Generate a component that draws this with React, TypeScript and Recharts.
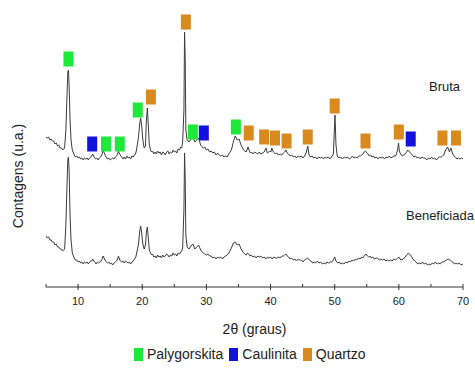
import React from 'react';
import { ComposedChart, Line, Scatter, XAxis, YAxis, Label } from 'recharts';

// 2θ (graus), contagens (u.a.)
const brutaPoints = [
  [5.0, 150], [5.2, 149], [5.4, 150], [5.6, 147], [5.8, 148], [6.0, 146], [6.2, 146], [6.4, 143],
  [6.6, 144], [6.8, 141], [7.0, 142], [7.2, 139], [7.4, 139], [7.6, 137], [7.75, 138], [7.9, 139],
  [8.1, 157], [8.25, 187], [8.4, 215], [8.5, 217], [8.6, 202], [8.75, 167], [8.9, 147], [9.1, 137],
  [9.4, 132], [9.6, 130], [9.8, 131], [10.0, 129], [10.2, 130], [10.4, 128], [10.6, 129], [10.8, 127],
  [11.0, 129], [11.2, 128], [11.4, 129], [11.6, 127], [11.8, 129], [12.0, 130], [12.1, 131], [12.2, 132],
  [12.3, 133], [12.4, 131], [12.5, 130], [12.7, 128], [12.9, 129], [13.1, 127], [13.3, 129], [13.5, 130],
  [13.7, 132], [13.9, 136], [14.0, 135], [14.1, 134], [14.25, 131], [14.4, 130], [14.6, 128], [14.8, 129],
  [15.0, 127], [15.2, 128], [15.4, 129], [15.6, 128], [15.8, 130], [16.0, 131], [16.15, 133], [16.3, 136],
  [16.4, 134], [16.5, 133], [16.65, 131], [16.8, 130], [17.0, 128], [17.2, 130], [17.4, 128], [17.6, 131],
  [17.8, 129], [18.0, 130], [18.2, 128], [18.4, 131], [18.6, 130], [18.8, 132], [19.0, 134], [19.1, 137],
  [19.4, 149], [19.6, 163], [19.75, 169], [19.9, 162], [20.1, 147], [20.3, 139], [20.5, 141], [20.65, 167],
  [20.8, 179], [20.95, 162], [21.1, 142], [21.3, 137], [21.45, 135], [21.6, 136], [21.8, 133], [22.0, 135],
  [22.2, 133], [22.4, 136], [22.6, 134], [22.8, 135], [23.0, 132], [23.2, 135], [23.4, 134], [23.6, 132],
  [23.8, 135], [24.0, 136], [24.2, 133], [24.4, 135], [24.6, 134], [24.8, 137], [25.0, 135], [25.2, 136],
  [25.4, 134], [25.6, 138], [25.8, 137], [26.0, 140], [26.15, 139], [26.3, 145], [26.5, 177], [26.6, 255],
  [26.7, 227], [26.8, 157], [27.0, 147], [27.3, 145], [27.6, 148], [27.9, 150], [28.2, 145], [28.5, 147],
  [28.8, 149], [29.1, 142], [29.5, 139], [29.75, 140], [30.0, 137], [30.25, 138], [30.5, 135], [30.75, 136],
  [31.0, 134], [31.25, 135], [31.5, 132], [31.75, 134], [32.0, 132], [32.25, 131], [32.5, 132], [32.75, 130],
  [33.0, 131], [33.25, 130], [33.5, 133], [33.9, 137], [34.2, 145], [34.5, 151], [34.8, 147], [35.1, 148],
  [35.4, 142], [35.8, 137], [36.2, 135], [36.5, 140], [36.7, 136], [36.85, 134], [37.0, 135], [37.25, 133],
  [37.5, 135], [37.75, 134], [38.0, 133], [38.25, 135], [38.5, 133], [38.75, 134], [39.0, 135], [39.3, 139],
  [39.5, 134], [39.7, 135], [39.9, 136], [40.05, 135], [40.2, 139], [40.35, 136], [40.5, 135], [40.75, 133],
  [41.0, 134], [41.25, 132], [41.5, 133], [41.75, 132], [42.0, 134], [42.2, 135], [42.4, 137], [42.6, 134],
  [42.8, 133], [43.05, 131], [43.3, 132], [43.55, 130], [43.8, 131], [44.05, 129], [44.3, 131], [44.55, 130],
  [44.8, 131], [45.05, 129], [45.3, 131], [45.6, 135], [45.8, 141], [46.0, 132], [46.25, 130], [46.5, 131],
  [46.75, 129], [47.0, 130], [47.25, 128], [47.5, 130], [47.75, 129], [48.0, 130], [48.25, 128], [48.5, 130],
  [48.75, 129], [49.0, 130], [49.25, 128], [49.5, 130], [49.8, 133], [49.95, 157], [50.05, 172], [50.2, 142],
  [50.4, 131], [50.65, 129], [50.9, 130], [51.2, 128], [51.5, 130], [51.75, 129], [52.0, 130], [52.25, 128],
  [52.5, 129], [52.75, 131], [53.0, 129], [53.25, 130], [53.5, 129], [53.75, 131], [54.0, 131], [54.2, 132],
  [54.4, 133], [54.6, 135], [54.8, 136], [55.0, 134], [55.2, 133], [55.4, 131], [55.6, 132], [55.8, 130],
  [56.0, 131], [56.25, 129], [56.5, 130], [56.75, 128], [57.0, 130], [57.25, 129], [57.5, 130], [57.75, 128],
  [58.0, 130], [58.25, 129], [58.5, 131], [58.75, 129], [59.0, 130], [59.25, 131], [59.5, 131], [59.8, 137],
  [59.95, 144], [60.1, 135], [60.5, 131], [61.0, 133], [61.4, 137], [61.7, 135], [62.1, 132], [62.35, 130],
  [62.6, 131], [62.85, 129], [63.1, 130], [63.35, 128], [63.6, 130], [63.85, 129], [64.1, 129], [64.35, 127],
  [64.6, 129], [64.85, 128], [65.1, 130], [65.35, 128], [65.6, 129], [65.85, 127], [66.1, 129], [66.35, 130],
  [66.6, 130], [66.8, 131], [67.0, 132], [67.3, 137], [67.6, 140], [67.9, 135], [68.1, 139], [68.4, 133],
  [68.6, 131], [68.8, 130], [69.05, 128], [69.3, 129], [69.55, 128], [69.8, 129], [70.0, 128],
];

const beneficiadaPoints = [
  [5.0, 51], [5.2, 49], [5.4, 50], [5.6, 47], [5.8, 47], [6.0, 45], [6.2, 45], [6.4, 42],
  [6.6, 43], [6.8, 40], [7.0, 40], [7.2, 38], [7.4, 38], [7.6, 36], [7.75, 37], [7.9, 38],
  [8.1, 62], [8.25, 97], [8.4, 127], [8.5, 130], [8.6, 117], [8.75, 72], [8.9, 47], [9.1, 34],
  [9.4, 29], [9.6, 27], [9.8, 27], [10.0, 25], [10.2, 26], [10.4, 24], [10.6, 25], [10.8, 23],
  [11.0, 25], [11.2, 24], [11.4, 25], [11.6, 23], [11.8, 25], [12.0, 26], [12.15, 26], [12.3, 28],
  [12.45, 26], [12.6, 25], [12.8, 23], [13.0, 25], [13.2, 24], [13.4, 25], [13.6, 26], [13.75, 28],
  [13.9, 31], [14.05, 29], [14.2, 27], [14.4, 25], [14.6, 24], [14.8, 25], [15.0, 23], [15.2, 24],
  [15.4, 22], [15.6, 24], [15.8, 25], [16.0, 26], [16.15, 28], [16.3, 31], [16.45, 28], [16.6, 26],
  [16.8, 25], [17.0, 26], [17.2, 24], [17.4, 26], [17.6, 25], [17.8, 24], [18.0, 25], [18.2, 23],
  [18.4, 25], [18.6, 26], [18.8, 28], [19.0, 30], [19.1, 33], [19.4, 42], [19.6, 55], [19.75, 61],
  [19.9, 55], [20.1, 43], [20.3, 38], [20.5, 42], [20.65, 55], [20.8, 60], [20.95, 49], [21.1, 37],
  [21.3, 34], [21.45, 32], [21.6, 33], [21.8, 30], [22.0, 31], [22.2, 29], [22.4, 32], [22.6, 30],
  [22.8, 31], [23.0, 29], [23.2, 32], [23.4, 30], [23.6, 31], [23.8, 33], [24.0, 32], [24.2, 30],
  [24.4, 32], [24.6, 31], [24.8, 34], [25.0, 32], [25.2, 33], [25.4, 31], [25.6, 34], [25.8, 33],
  [26.0, 35], [26.15, 36], [26.3, 39], [26.5, 77], [26.6, 134], [26.7, 107], [26.8, 52], [27.0, 40],
  [27.3, 38], [27.6, 41], [27.9, 43], [28.2, 38], [28.5, 40], [28.8, 42], [29.1, 37], [29.5, 34],
  [29.75, 33], [30.0, 32], [30.25, 33], [30.5, 31], [30.75, 31], [31.0, 29], [31.25, 30], [31.5, 28],
  [31.75, 30], [32.0, 29], [32.25, 30], [32.5, 28], [32.75, 30], [33.0, 31], [33.25, 32], [33.5, 34],
  [33.9, 39], [34.2, 44], [34.5, 45], [34.8, 42], [35.1, 43], [35.4, 38], [35.8, 34], [36.2, 32],
  [36.4, 34], [36.6, 33], [36.8, 31], [37.0, 32], [37.25, 30], [37.5, 31], [37.75, 29], [38.0, 31],
  [38.25, 30], [38.5, 31], [38.75, 29], [39.0, 30], [39.25, 28], [39.5, 30], [39.75, 29], [40.0, 30],
  [40.25, 28], [40.5, 30], [40.75, 29], [41.0, 29], [41.25, 30], [41.5, 29], [41.75, 31], [42.0, 31],
  [42.2, 32], [42.4, 33], [42.6, 31], [42.8, 30], [43.05, 28], [43.3, 29], [43.55, 27], [43.8, 28],
  [44.05, 26], [44.3, 28], [44.55, 27], [44.8, 27], [45.05, 25], [45.3, 27], [45.55, 28], [45.8, 29],
  [46.05, 27], [46.3, 26], [46.55, 24], [46.8, 25], [47.05, 24], [47.3, 26], [47.55, 24], [47.8, 25],
  [48.05, 23], [48.3, 24], [48.55, 23], [48.8, 25], [49.05, 24], [49.3, 25], [49.55, 25], [49.8, 27],
  [50.0, 30], [50.2, 26], [50.45, 24], [50.7, 25], [50.95, 23], [51.2, 24], [51.45, 23], [51.7, 25],
  [51.95, 24], [52.2, 26], [52.45, 25], [52.7, 27], [52.95, 26], [53.2, 28], [53.45, 27], [53.7, 29],
  [53.95, 28], [54.2, 30], [54.4, 29], [54.6, 31], [54.75, 32], [54.9, 33], [55.1, 31], [55.3, 30],
  [55.5, 31], [55.7, 29], [55.95, 30], [56.2, 28], [56.45, 29], [56.7, 29], [56.95, 27], [57.2, 28],
  [57.45, 27], [57.7, 28], [57.95, 26], [58.2, 27], [58.45, 26], [58.7, 27], [58.95, 26], [59.2, 28],
  [59.45, 27], [59.7, 28], [60.0, 30], [60.3, 27], [60.7, 28], [61.1, 31], [61.5, 34], [61.8, 32],
  [62.2, 28], [62.45, 26], [62.7, 25], [62.95, 23], [63.2, 24], [63.45, 23], [63.7, 25], [63.95, 23],
  [64.2, 24], [64.45, 22], [64.7, 23], [64.95, 22], [65.2, 24], [65.45, 23], [65.7, 25], [65.95, 23],
  [66.2, 24], [66.45, 23], [66.7, 25], [66.95, 25], [67.2, 26], [67.45, 27], [67.7, 28], [67.85, 27],
  [68.0, 27], [68.2, 26], [68.4, 25], [68.65, 23], [68.9, 24], [69.15, 23], [69.4, 24], [69.7, 22],
  [70.0, 23],
];

// picos identificados (2θ, altura do marcador)
const palygorskitaPeaks = [[8.5, 228], [14.35, 143], [16.5, 143], [19.3, 177], [27.9, 155], [34.6, 160]];
const caulinitaPeaks = [[12.2, 143], [29.6, 154], [61.85, 148]];
const quartzoPeaks = [
  [21.35, 190], [26.8, 265], [36.6, 154], [39.0, 150], [40.7, 149], [42.5, 146],
  [45.8, 150], [50.0, 181], [54.8, 146], [60.0, 155], [66.8, 149], [68.9, 149],
];

const xTicks = [5, 10, 15, 20, 25, 30, 35, 40, 45, 50, 55, 60, 65, 70];

const minerals = [
  { name: 'Palygorskita', color: '#1ee83a', peaks: palygorskitaPeaks },
  { name: 'Caulinita', color: '#1212dc', peaks: caulinitaPeaks },
  { name: 'Quartzo', color: '#d98a1e', peaks: quartzoPeaks },
];

const toRows = (pts: number[][]) => pts.map(([x, y]) => ({ x, y }));

const font = '"Liberation Sans", Arial, sans-serif';
const textColor = '#222';

const makeSquare = (color: string) => (props: any) => {
  const { cx, cy } = props;
  return <rect x={cx - 5} y={cy - 7.5} width={10} height={15} fill={color} />;
};

const AxisTick = (props: any) => {
  const { x, y, payload } = props;
  const major = payload.value % 10 === 0;
  return (
    <g>
      <line x1={x} x2={x} y1={y - 3} y2={major ? y + 3 : y} stroke="#333" />
      {major && (
        <text x={x} y={y + 18} textAnchor="middle" fontSize={11} fill={textColor} fontFamily={font}>
          {payload.value}
        </text>
      )}
    </g>
  );
};

export default function App() {
  return (
    <div style={{ position: 'absolute', left: 0, top: 0, width: 475, height: 368, background: '#fff', fontFamily: font }}>
      <ComposedChart width={475} height={368} margin={{ top: 7, right: 12, left: 0, bottom: 0 }}>
        <XAxis
          dataKey="x"
          type="number"
          domain={[5, 70]}
          ticks={xTicks}
          interval={0}
          height={81}
          tickSize={0}
          tickMargin={0}
          tickLine={false}
          tick={<AxisTick />}
          axisLine={{ stroke: '#333' }}
          allowDataOverflow
        >
          <Label value="2θ (graus)" position="insideTop" offset={37} fontSize={14} fill={textColor} fontFamily={font} />
        </XAxis>
        <YAxis
          type="number"
          domain={[0, 280]}
          width={46}
          tick={false}
          tickLine={false}
          axisLine={false}
        >
          <Label
            content={() => (
              <text x={18} y={176} transform="rotate(-90 18 176)" textAnchor="middle" dominantBaseline="central" fontSize={14} fill={textColor} fontFamily={font}>
                Contagens (u.a.)
              </text>
            )}
          />
        </YAxis>
        <Line data={toRows(brutaPoints)} dataKey="y" type="linear" stroke="#3c3c3c" strokeWidth={1} dot={false} isAnimationActive={false} />
        <Line data={toRows(beneficiadaPoints)} dataKey="y" type="linear" stroke="#3c3c3c" strokeWidth={1} dot={false} isAnimationActive={false} />
        {minerals.map((m) => (
          <Scatter key={m.name} name={m.name} data={toRows(m.peaks)} dataKey="y" fill={m.color} shape={makeSquare(m.color)} isAnimationActive={false} />
        ))}
      </ComposedChart>
      <div style={{ position: 'absolute', left: 429, top: 79, fontSize: 13, color: textColor }}>Bruta</div>
      <div style={{ position: 'absolute', left: 406, top: 208, fontSize: 13, color: textColor, whiteSpace: 'nowrap' }}>Beneficiada</div>
      <div style={{ position: 'absolute', left: 134, top: 346, display: 'flex', alignItems: 'center', fontSize: 14, color: textColor }}>
        {minerals.map((m) => (
          <div key={m.name} style={{ display: 'flex', alignItems: 'center', marginRight: 6 }}>
            <span style={{ display: 'inline-block', width: 9, height: 13, background: m.color, marginRight: 4 }} />
            <span>{m.name}</span>
          </div>
        ))}
      </div>
    </div>
  );
}
